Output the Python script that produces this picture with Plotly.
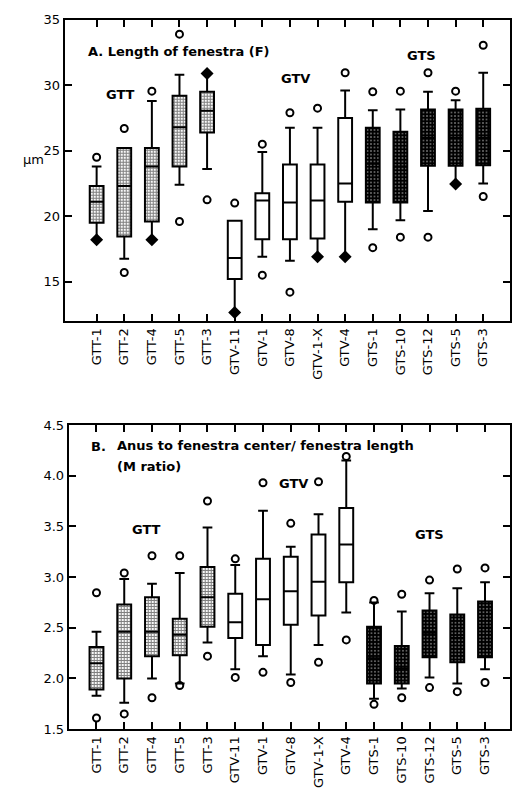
import plotly.graph_objects as go

categories = ["GTT-1", "GTT-2", "GTT-4", "GTT-5", "GTT-3",
              "GTV-11", "GTV-1", "GTV-8", "GTV-1-X", "GTV-4",
              "GTS-1", "GTS-10", "GTS-12", "GTS-5", "GTS-3"]
groups = ["GTT"] * 5 + ["GTV"] * 5 + ["GTS"] * 5

# Panel A: Length of fenestra (um)
a_q1 = [19.5, 18.45, 19.6, 23.8, 26.4, 15.2, 18.25, 18.25, 18.3, 21.1, 21.05, 21.05, 23.85, 23.85, 23.9]
a_med = [21.1, 22.3, 23.8, 26.8, 28.05, 16.8, 21.2, 21.05, 21.2, 22.5, 24.0, 23.8, 26.0, 26.0, 26.0]
a_q3 = [22.3, 25.2, 25.2, 29.2, 29.5, 19.65, 21.75, 23.95, 23.95, 27.5, 26.75, 26.45, 28.15, 28.15, 28.2]
a_lo = [18.2, 16.75, 18.2, 22.4, 23.6, 12.65, 16.9, 16.6, 16.9, 16.9, 19.0, 19.7, 20.4, 22.45, 22.5]
a_hi = [23.8, 25.2, 28.8, 30.8, 30.9, 19.65, 24.9, 26.75, 26.75, 29.6, 28.1, 28.15, 29.5, 28.85, 30.95]
a_circles = [[24.5], [26.7, 15.7], [29.55], [33.9, 19.6], [21.25], [21.0], [25.5, 15.5],
             [27.9, 14.2], [28.25], [30.95], [29.5, 17.6], [29.55, 18.4], [30.95, 18.4],
             [29.55], [33.05, 21.5]]
a_diamonds = [[18.2], [], [18.2], [], [30.9], [12.65], [], [], [16.9], [16.9],
              [], [], [], [22.45], []]

# Panel B: Anus to fenestra center / fenestra length (M ratio)
b_q1 = [1.89, 2.0, 2.22, 2.23, 2.51, 2.40, 2.33, 2.53, 2.62, 2.95, 1.95, 1.95, 2.21, 2.16, 2.21]
b_med = [2.15, 2.46, 2.46, 2.43, 2.80, 2.555, 2.78, 2.86, 2.955, 3.32, 2.2, 2.1, 2.45, 2.4, 2.5]
b_q3 = [2.31, 2.73, 2.80, 2.59, 3.10, 2.835, 3.18, 3.20, 3.42, 3.68, 2.51, 2.32, 2.67, 2.63, 2.76]
b_lo = [1.83, 1.76, 2.0, 1.95, 2.355, 2.09, 2.22, 2.04, 2.33, 2.65, 1.80, 1.90, 2.01, 1.95, 2.09]
b_hi = [2.46, 2.98, 2.935, 3.04, 3.49, 3.12, 3.655, 3.30, 3.62, 4.15, 2.75, 2.66, 2.84, 2.89, 2.95]
b_circles = [[2.845, 1.61], [3.04, 1.65], [3.21, 1.81], [3.21, 1.93], [3.75, 2.22],
             [3.18, 2.01], [3.93, 2.06], [3.53, 1.96], [3.94, 2.16], [4.19, 2.38],
             [2.77, 1.745], [2.83, 1.81], [2.97, 1.91], [3.08, 1.87], [3.09, 1.96]]
b_diamonds = [[] for _ in categories]

a_yticks = [15, 20, 25, 30, 35]
b_yticks = [1.5, 2.0, 2.5, 3.0, 3.5, 4.0, 4.5]

W, H = 512, 797
FONT = "DejaVu Sans"


def px(xp):
    return xp / W


def py(yp):
    return 1 - yp / H


patterns = {
    "GTT": dict(bg="white", fg="black", shape="+", size=3, solidity=0.6),
    "GTS": dict(bg="black", fg="white", shape=".", size=3.5, solidity=0.2),
}

fig = go.Figure()


def add_panel(xa, ya, q1, med, q3, lo, hi, circles, diamonds):
    for g in ["GTT", "GTV", "GTS"]:
        idx = [i for i, gg in enumerate(groups) if gg == g]
        if g in patterns:
            p = patterns[g]
            fig.add_trace(go.Bar(
                x=idx, base=[q1[i] for i in idx], y=[q3[i] - q1[i] for i in idx],
                width=0.5,
                marker=dict(color=p["bg"], line=dict(width=0),
                            pattern=dict(shape=p["shape"], fgcolor=p["fg"], bgcolor=p["bg"],
                                         size=p["size"], solidity=p["solidity"])),
                xaxis=xa, yaxis=ya, showlegend=False, hoverinfo="skip"))
        fig.add_trace(go.Box(
            x=idx, q1=[q1[i] for i in idx], median=[med[i] for i in idx],
            q3=[q3[i] for i in idx], lowerfence=[lo[i] for i in idx],
            upperfence=[hi[i] for i in idx], width=0.5, whiskerwidth=0.7,
            line=dict(color="black", width=2), fillcolor="rgba(0,0,0,0)",
            boxpoints=False, xaxis=xa, yaxis=ya, showlegend=False))
    cx, cy = [], []
    for i, lst in enumerate(circles):
        for v in lst:
            cx.append(i)
            cy.append(v)
    fig.add_trace(go.Scatter(x=cx, y=cy, mode="markers", xaxis=xa, yaxis=ya, showlegend=False,
                             marker=dict(symbol="circle-open", size=7, color="black",
                                         line=dict(width=2, color="black"))))
    dx, dy = [], []
    for i, lst in enumerate(diamonds):
        for v in lst:
            dx.append(i)
            dy.append(v)
    if dx:
        fig.add_trace(go.Scatter(x=dx, y=dy, mode="markers", xaxis=xa, yaxis=ya, showlegend=False,
                                 marker=dict(symbol="diamond", size=10, color="black")))


add_panel("x", "y", a_q1, a_med, a_q3, a_lo, a_hi, a_circles, a_diamonds)
add_panel("x2", "y2", b_q1, b_med, b_q3, b_lo, b_hi, b_circles, b_diamonds)

axis_common = dict(showline=True, linewidth=2, linecolor="black", mirror="ticks",
                   ticks="inside", ticklen=7, tickwidth=2, tickcolor="black",
                   showgrid=False, zeroline=False,
                   tickfont=dict(family=FONT, size=13, color="black"))

fig.update_layout(
    width=W, height=H, margin=dict(l=0, r=0, t=0, b=0),
    paper_bgcolor="white", plot_bgcolor="white", barmode="overlay",
    boxmode="overlay", showlegend=False,
    xaxis=dict(domain=[px(65), 1.0], range=[-1.155, 14.97], tickvals=list(range(15)),
               ticktext=categories, tickangle=-90, anchor="y", **axis_common),
    yaxis=dict(domain=[py(320), py(13)], range=[12, 35], tickvals=a_yticks,
               ticktext=[str(v) for v in a_yticks], anchor="x", **axis_common),
    xaxis2=dict(domain=[px(69), 1.0], range=[-1.0, 14.9], tickvals=list(range(15)),
                ticktext=categories, tickangle=-90, anchor="y2", **axis_common),
    yaxis2=dict(domain=[py(736), py(426)], range=[1.5, 4.5], tickvals=b_yticks,
                ticktext=[f"{v:.1f}" for v in b_yticks], anchor="x2", **axis_common),
)


def label(text, x, y, size=13, bold=True, xanchor="center"):
    fig.add_annotation(text=f"<b>{text}</b>" if bold else text, x=px(x), y=py(y),
                       xref="paper", yref="paper", xanchor=xanchor, yanchor="middle",
                       showarrow=False, font=dict(family=FONT, size=size, color="black"))


label("A. Length of fenestra (F)", 86, 45, xanchor="left")
label("GTT", 121, 89)
label("GTV", 297, 73)
label("GTS", 423, 49)
label("\u00b5m", 34, 155, size=13, bold=False)

label("B.", 89, 448, xanchor="left")
label("Anus to fenestra center/ fenestra length", 115, 447, xanchor="left")
label("(M ratio)", 115, 468, xanchor="left")
label("GTT", 147, 533)
label("GTV", 295, 486)
label("GTS", 431, 538)

fig.write_html(
    "out.html",
    config={"displayModeBar": False},
    post_script="document.body.style.margin='0';document.body.style.padding='0';"
                "document.body.style.overflow='hidden';",
)
